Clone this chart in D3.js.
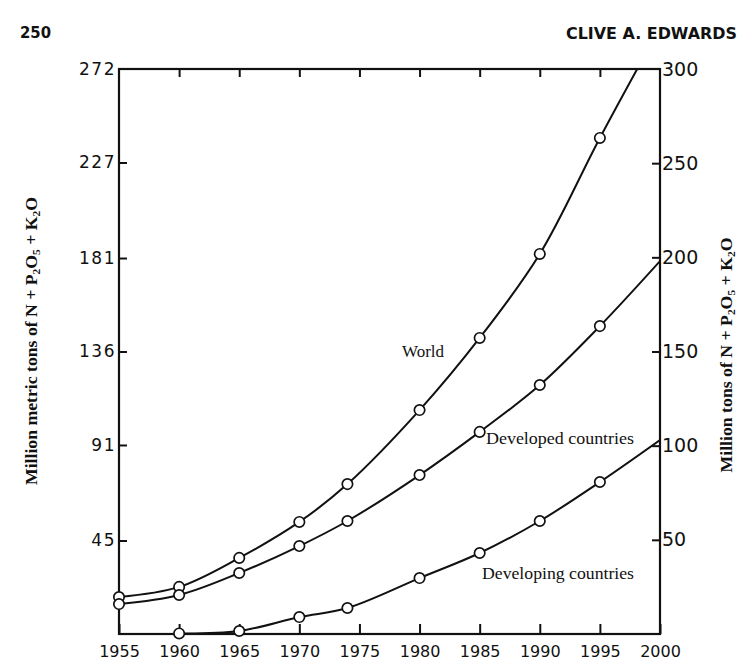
<!DOCTYPE html>
<html>
<head>
<meta charset="utf-8">
<script src="https://cdn.jsdelivr.net/npm/d3@7"></script>
<style>
  body { margin: 0; background: #fff; }
  svg text { fill: #111; }
</style>
</head>
<body>
<div id="chart"></div>
<script>
var width = 740,
    height = 665;

// data, million short tons (right axis units)
var years = [1955, 1960, 1965, 1970, 1974, 1980, 1985, 1990, 1995];
var world = [19.6, 25.0, 40.4, 59.5, 79.6, 118.9, 157.2, 201.8, 263.4];
var developed = [15.9, 20.7, 32.4, 46.7, 60.0, 84.4, 107.3, 132.2, 163.5];
var developingYears = [1960, 1965, 1970, 1974, 1980, 1985, 1990, 1995];
var developing = [0.3, 1.6, 9.0, 13.8, 29.7, 43.0, 60.0, 80.7];
// projected curve ends (no marker)
var endYear = 2000;
var worldEnd = 322, developedEnd = 198, developingEnd = 103;

var xTicks = [1955, 1960, 1965, 1970, 1975, 1980, 1985, 1990, 1995, 2000];
var leftTicks = [45, 91, 136, 181, 227, 272];
var rightTicks = [50, 100, 150, 200, 250, 300];

var plotL = 119, plotR = 660, plotT = 69, plotB = 634;

var x = d3.scaleLinear().domain([1955, 2000]).range([plotL, plotR]);
var y = d3.scaleLinear().domain([0, 300]).range([plotB, plotT]);
var yLeft = d3.scaleLinear().domain([0, 272]).range([plotB, plotT]);

var svg = d3.select("#chart").append("svg")
    .attr("width", width)
    .attr("height", height);

svg.append("defs").append("clipPath").attr("id", "plot")
  .append("rect")
    .attr("x", plotL).attr("y", plotT)
    .attr("width", plotR - plotL).attr("height", plotB - plotT);

// header
svg.append("text")
    .attr("x", 20).attr("y", 38)
    .attr("font-family", "DejaVu Sans").attr("font-weight", "bold")
    .attr("font-size", 15)
    .attr("textLength", 31).attr("lengthAdjust", "spacingAndGlyphs")
    .text("250");
svg.append("text")
    .attr("x", 566).attr("y", 39)
    .attr("font-family", "DejaVu Sans").attr("font-weight", "bold")
    .attr("font-size", 15)
    .attr("textLength", 171).attr("lengthAdjust", "spacingAndGlyphs")
    .text("CLIVE A. EDWARDS");

// axes
var axisStyle = function(g) {
  g.select(".domain").remove();
  g.selectAll(".tick line").attr("stroke", "#111").attr("stroke-width", 2);
  g.selectAll(".tick text").attr("fill", "#111");
};

svg.append("g")
    .attr("transform", "translate(0," + plotB + ")")
    .call(d3.axisTop(x).tickValues(xTicks).tickSize(10).tickFormat(""))
    .call(axisStyle);
svg.append("g")
    .attr("transform", "translate(0," + plotB + ")")
    .call(d3.axisBottom(x).tickValues(xTicks).tickSize(0).tickPadding(12).tickFormat(d3.format("d")))
    .call(axisStyle)
    .selectAll("text")
    .attr("font-family", "DejaVu Sans").attr("font-size", 16);

svg.append("g")
    .attr("transform", "translate(0," + plotT + ")")
    .call(d3.axisBottom(x).tickValues(xTicks.slice(1, -1)).tickSize(8).tickFormat(""))
    .call(axisStyle);

svg.append("g")
    .attr("transform", "translate(" + plotL + ",0)")
    .call(d3.axisRight(yLeft).tickValues(leftTicks.slice(0, -1)).tickSize(8).tickFormat(""))
    .call(axisStyle);
svg.append("g")
    .attr("transform", "translate(" + plotL + ",0)")
    .call(d3.axisLeft(yLeft).tickValues(leftTicks).tickSize(0).tickPadding(3))
    .call(axisStyle)
    .selectAll("text")
    .attr("font-family", "DejaVu Sans").attr("font-size", 17)
    .attr("letter-spacing", 1.5);

svg.append("g")
    .attr("transform", "translate(" + plotR + ",0)")
    .call(d3.axisLeft(y).tickValues(rightTicks.slice(0, -1)).tickSize(8).tickFormat(""))
    .call(axisStyle);
svg.append("g")
    .attr("transform", "translate(" + plotR + ",0)")
    .call(d3.axisRight(y).tickValues(rightTicks).tickSize(0).tickPadding(2))
    .call(axisStyle)
    .selectAll("text")
    .attr("font-family", "DejaVu Sans").attr("font-size", 19);

// frame
svg.append("rect")
    .attr("x", plotL).attr("y", plotT)
    .attr("width", plotR - plotL).attr("height", plotB - plotT)
    .attr("fill", "none").attr("stroke", "#111").attr("stroke-width", 2.2);

// curves
var line = d3.line()
    .x(function(d) { return x(d[0]); })
    .y(function(d) { return y(d[1]); })
    .curve(d3.curveCatmullRom.alpha(0.5));

var series = [
  { yrs: years, vals: world, end: worldEnd },
  { yrs: years, vals: developed, end: developedEnd },
  { yrs: developingYears, vals: developing, end: developingEnd }
];

series.forEach(function(s) {
  var pts = s.yrs.map(function(yr, i) { return [yr, s.vals[i]]; });
  svg.append("path")
      .datum(pts.concat([[endYear, s.end]]))
      .attr("clip-path", "url(#plot)")
      .attr("fill", "none")
      .attr("stroke", "#111")
      .attr("stroke-width", 2)
      .attr("d", line);
  svg.selectAll(null)
      .data(pts)
    .enter().append("circle")
      .attr("cx", function(d) { return x(d[0]); })
      .attr("cy", function(d) { return y(d[1]); })
      .attr("r", 5.2)
      .attr("fill", "#fff")
      .attr("stroke", "#111")
      .attr("stroke-width", 1.7);
});

// series labels
var labels = [
  { t: "World", x: 402, y: 357, w: 42 },
  { t: "Developed countries", x: 486, y: 444, w: 148 },
  { t: "Developing countries", x: 482, y: 579, w: 152 }
];
svg.selectAll(".lbl")
    .data(labels)
  .enter().append("text")
    .attr("class", "lbl")
    .attr("x", function(d) { return d.x; })
    .attr("y", function(d) { return d.y; })
    .attr("font-family", "Liberation Serif").attr("font-size", 16)
    .attr("textLength", function(d) { return d.w; })
    .attr("lengthAdjust", "spacingAndGlyphs")
    .text(function(d) { return d.t; });

// axis titles with subscripts
function title(tx, ty, parts, len) {
  var t = svg.append("text")
      .attr("transform", "translate(" + tx + "," + ty + ") rotate(-90)")
      .attr("text-anchor", "middle")
      .attr("font-family", "Liberation Serif").attr("font-size", 17)
      .attr("font-weight", "bold")
      .attr("textLength", len).attr("lengthAdjust", "spacingAndGlyphs");
  parts.forEach(function(p) {
    var ts = t.append("tspan").text(p[0]);
    if (p[1]) ts.attr("baseline-shift", "-25%").attr("font-size", 11);
  });
}
title(37, 341, [["Million metric tons of N + P"], ["2", 1], ["O"], ["5", 1], [" + K"], ["2", 1], ["O"]], 288);
title(732, 355, [["Million tons of N + P"], ["2", 1], ["O"], ["5", 1], [" + K"], ["2", 1], ["O"]], 235);
</script>
</body>
</html>
